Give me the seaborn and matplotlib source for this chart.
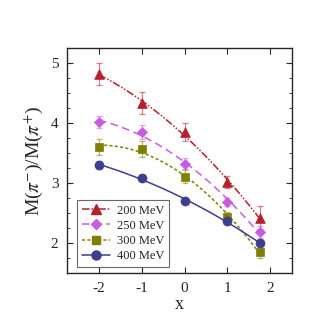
import numpy as np
import pandas as pd
import seaborn as sns
import matplotlib.pyplot as plt
from matplotlib.lines import Line2D
from matplotlib.ticker import MultipleLocator

sns.set_style("ticks")
plt.rcParams['font.family'] = ['Liberation Serif', 'DejaVu Serif']
plt.rcParams['mathtext.fontset'] = 'stix'
plt.rcParams['axes.unicode_minus'] = False

# data
x = [-2, -1, 0, 1, 1.75]
labels = ['200 MeV', '250 MeV', '300 MeV', '400 MeV']
y200 = [4.82, 4.34, 3.85, 3.02, 2.43]
e200 = [0.18, 0.18, 0.15, 0.10, 0.19]
y250 = [4.02, 3.86, 3.33, 2.69, 2.19]
e250 = [0.10, 0.12, 0.09, 0.07, 0.10]
y300 = [3.61, 3.57, 3.11, 2.44, 1.86]
e300 = [0.13, 0.13, 0.11, 0.08, 0.10]
y400 = [3.31, 3.09, 2.70, 2.38, 2.00]
e400 = [0.07, 0.05, 0.04, 0.04, 0.05]

colors = ['#b5202a', '#c75ce0', '#7f7f00', '#3e3e8e']
markers = ['^', 'D', 's', 'o']
msizes = [7, 5.2, 6.3, 6.5]
dashes = [(5, 1.2, 1, 1.2, 1, 1.2), (5, 3), (2, 1.5), ()]

fig = plt.figure(figsize=(3.22, 3.22), dpi=100)
ax = fig.add_axes([0.207, 0.151, 0.699, 0.699])

series = [(y200, e200), (y250, e250), (y300, e300), (y400, e400)]
handles = []
for (ys, es), lab, c, m, ms, d in zip(series, labels, colors, markers, msizes, dashes):
    # smooth quadratic fit through the points
    coef = np.polyfit(x, ys, 2)
    xf = np.linspace(min(x), max(x), 100)
    fit = pd.DataFrame({'x': xf, 'y': np.polyval(coef, xf)})
    sns.lineplot(data=fit, x='x', y='y', ax=ax, color=c, lw=1.1)
    if d:
        ax.lines[-1].set_dashes(d)
    ax.errorbar(x, ys, yerr=es, fmt='none', ecolor=c, alpha=0.55,
                capsize=2.5, elinewidth=0.9, capthick=0.9)
    sns.scatterplot(x=x, y=ys, ax=ax, color=c, marker=m, s=ms ** 2,
                    edgecolor=c, linewidth=0.5, zorder=5)
    handles.append(Line2D([], [], color=c, marker=m, markersize=ms,
                          lw=1.1, dashes=d if d else (None, None), label=lab))

ax.set_xlim(-2.75, 2.5)
ax.set_ylim(1.5, 5.25)
ax.set_xticks([-2, -1, 0, 1, 2])
ax.set_yticks([2, 3, 4, 5])
ax.yaxis.set_minor_locator(MultipleLocator(0.25))
ax.tick_params(direction='in', top=True, right=True, labelsize=11, length=4, width=0.8, pad=6)
ax.tick_params(which='minor', direction='in', right=True, length=2.5, width=0.6)
for s in ax.spines.values():
    s.set_linewidth(1.0)
ax.set_xlabel('x', fontsize=13, labelpad=1)
ax.set_ylabel(r'M($\pi^{-}$)/M($\pi^{+}$)', fontsize=14, labelpad=4)

leg = ax.legend(handles=handles, loc='lower left', fontsize=9, frameon=True,
                fancybox=False, edgecolor='#444444', handlelength=2.2,
                borderpad=0.4, labelspacing=0.25, handletextpad=0.6,
                borderaxespad=0, bbox_to_anchor=(0.046, 0.028))
leg.get_frame().set_linewidth(0.8)

fig.savefig('out.png', dpi=100)
